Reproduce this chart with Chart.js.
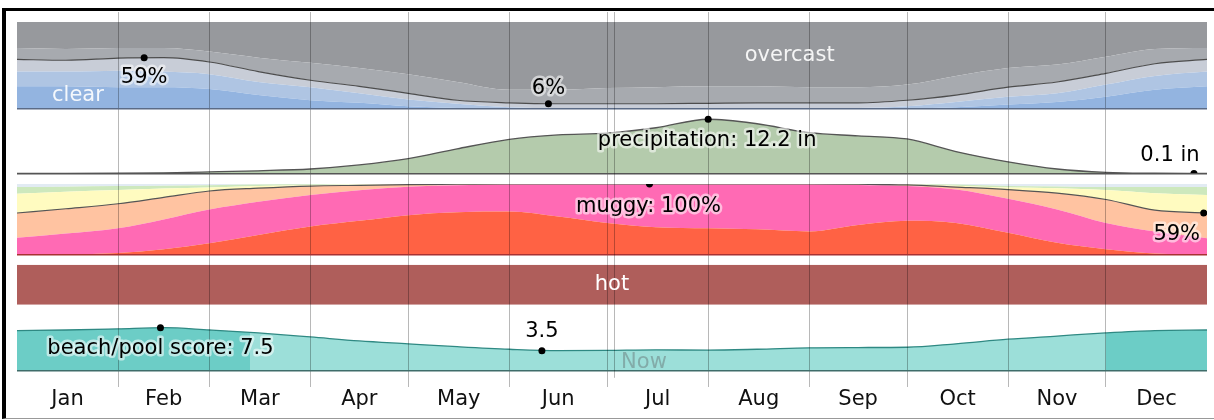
<!DOCTYPE html>
<html><head><meta charset="utf-8">
<script src="https://cdn.jsdelivr.net/npm/chart.js@4.4.1/dist/chart.umd.min.js"></script>
<style>
html,body{margin:0;padding:0;background:#fff;}
#wrap{position:relative;width:1214px;height:420px;overflow:hidden;}
#frame{position:absolute;left:2px;top:8px;width:1212px;height:411px;border-top:3px solid #000;border-left:4px solid #000;border-bottom:1px solid #999;box-sizing:border-box;}
canvas{position:absolute;left:0;top:0;}
</style></head><body>
<div id="wrap"><div id="frame"></div><canvas id="c" width="1214" height="420"></canvas></div>
<script>
// ---------- data ----------
const months = ['Jan','Feb','Mar','Apr','May','Jun','Jul','Aug','Sep','Oct','Nov','Dec'];
const monthStartDays = [31,59,90,120,151,181,212,243,273,304,334];
const monthMidDays = [15.5,45,74.5,105,135.5,166,196.5,227.5,258,288.5,319,349.5];
const days = [0,15,31,45,59,74,90,105,120,135,151,166,181,196,212,227,243,258,273,288,304,319,334,349,365];

// cloud cover, cumulative % from the bottom
const cloudClear        = [26,26,25,25,23,16,10,7,3,1,0,0,0,0,0,0,0,0,0.5,2,5,8,14,22,26];
const cloudMostlyClear  = [43,43,44,43,40,31,25,18,11,6,2,1,1,1,1,1,1,1,3,8,14,18,28,38,43];
const cloudPartly       = [57,56,58.5,59,54,43,33,26,18,10,7,6,6,6,6.5,7,7,7,10,16,25,31,41,52,57];
const cloudMostlyCloudy = [70,69,70,70,66,59,53,47,40,31,22,22,24,25,26,26,25,25,28,38,47,51,60,69,70];

// precipitation, inches (31-day)
const precip = [0.1,0.1,0.15,0.25,0.45,0.7,1.1,2.0,3.4,5.6,7.7,8.7,9.1,10.3,12.2,11.2,9.2,8.5,7.8,5.0,2.7,1.1,0.35,0.15,0.1];

// humidity comfort, cumulative % from the bottom
const humMiserable   = [0,0.5,2.5,8,16.5,28,40,48,56,60,61,54,45,39,37.5,36,33,42,48,45,31,17,8,2,0];
const humOppressive  = [24,30,37.5,50,64,75,84.5,91,96,98,99,99,99,99,99,99,99,98.5,97,92,79,64,45,33,23.5];
const humMuggy       = [59,65,72,81,90,94,97,98,99,99.5,100,100,100,100,100,100,100,99.5,98.5,95.5,92,87,78,63,59];
const humHumid       = [86,89,91.5,93.5,95,97,98,99,99.5,100,100,100,100,100,100,100,100,100,99,97.5,95,94,91.5,87,84.5];
const humComfortable = [95.5,96,97,97.5,98,99,99.5,99.5,100,100,100,100,100,100,100,100,100,100,99.5,99,97,96.5,95.5,95.5,95.5];

// temperature band (hot all year)
const hotDays  = [0,365];
const hotLevel = [1,1];

// beach/pool score
const beachScore = [7.0,7.1,7.3,7.5,7.1,6.6,5.9,5.2,4.7,4.2,3.75,3.5,3.55,3.65,3.6,3.75,4.0,4.05,4.1,4.7,5.5,6.05,6.6,7.0,7.1];
const beachBestPeriods = [[0,71.5],[334,365]];

// annotated points
const cloudMarkDays = [39,163],   cloudMarkValues = [59,6];
const precipMarkDays = [212,361], precipMarkValues = [12.2,0.1];
const humMarkDays = [194,364],    humMarkValues = [100,59];
const beachMarkDays = [44,161],   beachMarkValues = [7.5,3.5];
const nowDay = 183;

// ---------- build ----------
const FONT = '"DejaVu Sans", Verdana, sans-serif';
const FS = 21;
const P = (xs, ys) => xs.map((d,i)=>({x:d, y:ys[i]}));
const datasets = [];
function area(axis, data, color, fill){
  datasets.push({type:'line', xAxisID:'x', yAxisID:axis, data, backgroundColor:color, borderWidth:0,
    pointRadius:0, fill, order:3, cubicInterpolationMode:'monotone'});
  return datasets.length-1;
}
function curve(axis, data, color, w){
  datasets.push({type:'line', xAxisID:'x', yAxisID:axis, data, borderColor:color, borderWidth:w,
    pointRadius:0, fill:false, order:2, cubicInterpolationMode:'monotone'});
  return datasets.length-1;
}
function dots(axis, xs, ys){
  datasets.push({type:'line', xAxisID:'x', yAxisID:axis, data:P(xs,ys), showLine:false,
    pointRadius:3.5, pointBackgroundColor:'#000', pointBorderWidth:0, order:1});
  return datasets.length-1;
}

// clouds
const c0 = area('yc', P(days,cloudClear), '#93b4e0', 'origin');
const c1 = area('yc', P(days,cloudMostlyClear), '#afc5e3', c0);
const c2 = area('yc', P(days,cloudPartly), '#c8cdd7', c1);
const c3 = area('yc', P(days,cloudMostlyCloudy), '#a7aaaf', c2);
area('yc', P(days,cloudMostlyCloudy), '#97999d', 'end');
curve('yc', P(days,cloudPartly), '#4d4d4d', 1.2);
// precipitation
area('yp', P(days,precip), '#b4cbac', 'origin');
curve('yp', P(days,precip), '#555', 1.3);
// humidity
const h0 = area('ym', P(days,humMiserable), '#ff6244', 'origin');
const h1 = area('ym', P(days,humOppressive), '#ff6ab4', h0);
const h2 = area('ym', P(days,humMuggy), '#ffc3a1', h1);
const h3 = area('ym', P(days,humHumid), '#fffbc0', h2);
const h4 = area('ym', P(days,humComfortable), '#cde8bd', h3);
area('ym', P(days,humComfortable), '#e2ebf3', 'end');
curve('ym', P(days,humMuggy), '#555', 1.2);
// hot
area('yh', P(hotDays,hotLevel), '#af5e5b', 'origin');
// beach
datasets.push({type:'line', xAxisID:'x', yAxisID:'yb', data:P(days,beachScore), borderWidth:0, pointRadius:0,
  fill:'origin', order:3, cubicInterpolationMode:'monotone',
  backgroundColor:(ctx)=>{
    const ch = ctx.chart, ca = ch.chartArea, xs = ch.scales.x;
    if(!ca || !xs) return '#9cdfd9';
    const f = d => Math.min(1,Math.max(0,(xs.getPixelForValue(d)-ca.left)/(ca.right-ca.left)));
    const g = ch.ctx.createLinearGradient(ca.left,0,ca.right,0);
    let last=0;
    beachBestPeriods.forEach(([a,b])=>{
      const fa=f(a), fb=f(b);
      if(fa>last){ g.addColorStop(last,'#9cdfd9'); g.addColorStop(fa,'#9cdfd9'); }
      g.addColorStop(fa,'#6ccdc6'); g.addColorStop(fb,'#6ccdc6'); last=fb;
    });
    if(last<1){ g.addColorStop(last,'#9cdfd9'); g.addColorStop(1,'#9cdfd9'); }
    return g;
  }});
curve('yb', P(days,beachScore), '#2f8983', 1.3);

// dots
const dC = dots('yc', cloudMarkDays, cloudMarkValues);
const dP = dots('yp', precipMarkDays, precipMarkValues);
const dH = dots('ym', humMarkDays, humMarkValues);
const dB = dots('yb', beachMarkDays, beachMarkValues);

const markLabels = [
  {ds:dC, i:0, text:v=>v+'%', dx:0, dy:20},
  {ds:dC, i:1, text:v=>v+'%', dx:0, dy:-15},
  {ds:dP, i:0, text:v=>'precipitation: '+v+' in', dx:-1, dy:21},
  {ds:dP, i:1, text:v=>v+' in', dx:-24, dy:-17.5},
  {ds:dH, i:0, text:v=>'muggy: '+v+'%', dx:-1, dy:22.5},
  {ds:dH, i:1, text:v=>v+'%', dx:-27, dy:22},
  {ds:dB, i:0, text:v=>'beach/pool score: '+v, dx:0, dy:20.5},
  {ds:dB, i:1, text:v=>''+v, dx:0, dy:-19.5},
];
const bandTexts = [
  {text:'clear', axis:'yc', day:18.7, value:15, color:'rgba(255,255,255,0.9)'},
  {text:'overcast', axis:'yc', day:237, value:61, color:'rgba(255,255,255,0.9)'},
  {text:'hot', axis:'yh', day:182.5, value:0.5, color:'#fff'},
  {text:'Now', axis:'yb', day:192.3, value:1.5, color:'rgba(110,130,130,0.55)'},
];

const textPlugin = {
  id:'texts',
  afterDraw(chart){
    const ctx = chart.ctx, ca = chart.chartArea, xs = chart.scales.x;
    ctx.save();
    // now line
    const nx = Math.round(xs.getPixelForValue(nowDay))+0.5;
    ctx.strokeStyle='rgba(0,0,0,0.28)'; ctx.lineWidth=1;
    ctx.beginPath(); ctx.moveTo(nx,ca.top); ctx.lineTo(nx,ca.bottom-9); ctx.stroke();
    ctx.font = FS+'px '+FONT; ctx.textAlign='center'; ctx.textBaseline='middle';
    bandTexts.forEach(t=>{
      ctx.fillStyle=t.color;
      ctx.fillText(t.text, xs.getPixelForValue(t.day), chart.scales[t.axis].getPixelForValue(t.value));
    });
    ctx.lineJoin='round';
    markLabels.forEach(m=>{
      const pt = chart.getDatasetMeta(m.ds).data[m.i];
      const v = chart.data.datasets[m.ds].data[m.i].y;
      const s = m.text(v), x = pt.x+m.dx, y = pt.y+m.dy;
      ctx.strokeStyle='rgba(255,255,255,0.55)'; ctx.lineWidth=5;
      ctx.strokeText(s,x,y);
      ctx.fillStyle='#000'; ctx.fillText(s,x,y);
    });
    ctx.restore();
  }
};

function band(weight, stackWeight, max, lineColor){
  return {type:'linear', position:'left', stack:'bands', stackWeight, weight, min:0, max,
    ticks:{display:false}, border:{display:false},
    grid: lineColor ? {color:lineColor, lineWidth:1.5, drawTicks:false, z:1} : {display:false, drawTicks:false},
    afterBuildTicks: s => { s.ticks = [{value:0}]; }};
}

new Chart(document.getElementById('c'), {
  type:'line',
  data:{datasets},
  plugins:[textPlugin],
  options:{
    responsive:false, animation:false, devicePixelRatio:1,
    layout:{padding:{left:17, right:7, top:12, bottom:8}},
    plugins:{legend:{display:false}, tooltip:{enabled:false}},
    scales:{
      x:{type:'linear', min:0, max:365, position:'bottom', weight:0,
         ticks:{display:false}, border:{display:false},
         grid:{color:'rgba(0,0,0,0.28)', lineWidth:1, drawTicks:false, z:1},
         afterBuildTicks: s => { s.ticks = monthStartDays.map(v=>({value:v})); }},
      xl:{type:'linear', min:0, max:365, position:'bottom', weight:1,
         grid:{display:false, drawTicks:false}, border:{display:false},
         ticks:{autoSkip:false, maxRotation:0, padding:0, color:'#111', font:{family:FONT, size:FS},
                callback:(v,i)=>months[i]},
         afterBuildTicks: s => { s.ticks = monthMidDays.map(v=>({value:v})); }},
      ys1: band(9, 10, 1, null),
      yc:  band(8, 87, 100, '#5b6b86'),
      yp:  band(7, 65, 14.5, '#555'),
      ys2: band(6, 10, 1, null),
      ym:  band(5, 71, 100, '#a83232'),
      ys3: band(4, 10, 1, null),
      yh:  band(3, 40, 1, null),
      yb:  band(2, 66, 11.48, '#3f6d6a'),
      ys4: band(1, 16, 1, null),
    }
  }
});
</script>
</body></html>
